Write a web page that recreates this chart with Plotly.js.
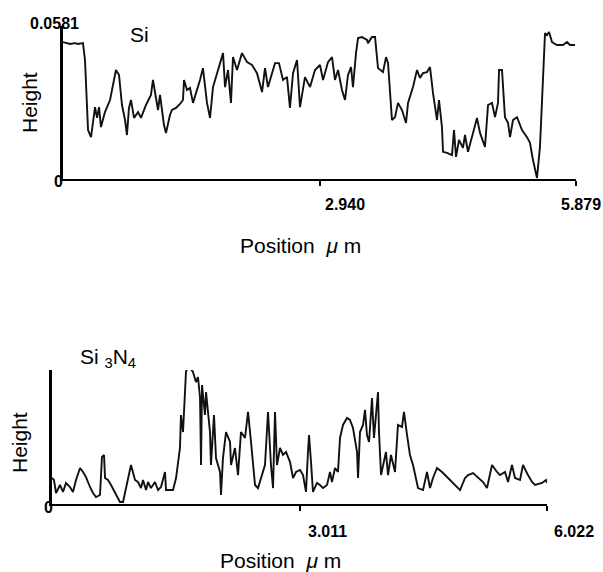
<!DOCTYPE html>
<html>
<head>
<meta charset="utf-8">
<script src="https://cdn.plot.ly/plotly-3.0.1.min.js"></script>
<style>html,body{margin:0;padding:0;background:#fff;}#chart{width:603px;height:572px;}</style>
</head>
<body>
<div id="chart"></div>
<script>
// ---- Si profile (position in um, height in nm; full scale 0.0581 um = 58.1 nm)
const siPos = [0,0.080,0.138,0.172,0.229,0.252,0.287,0.321,0.367,0.390,0.413,0.435,0.481,0.539,0.607,0.642,0.676,0.711,0.733,0.756,0.779,0.814,0.860,0.894,0.951,1.008,1.031,1.066,1.089,1.112,1.157,1.180,1.226,1.249,1.295,1.341,1.375,1.387,1.421,1.455,1.490,1.570,1.604,1.650,1.685,1.719,1.776,1.834,1.857,1.891,1.925,1.948,1.994,2.051,2.109,2.166,2.223,2.281,2.315,2.349,2.430,2.475,2.521,2.567,2.601,2.636,2.682,2.716,2.773,2.831,2.888,2.945,2.980,3.037,3.083,3.117,3.152,3.197,3.232,3.266,3.301,3.323,3.358,3.381,3.427,3.484,3.495,3.541,3.576,3.610,3.667,3.702,3.725,3.747,3.770,3.805,3.839,3.885,3.931,3.954,4.011,4.057,4.091,4.126,4.171,4.206,4.240,4.286,4.309,4.343,4.355,4.401,4.458,4.481,4.504,4.538,4.584,4.607,4.641,4.699,4.744,4.779,4.836,4.871,4.916,4.951,4.985,4.997,5.031,5.065,5.100,5.123,5.157,5.203,5.260,5.317,5.352,5.386,5.432,5.466,5.501,5.524,5.547,5.570,5.604,5.661,5.730,5.776,5.810,5.868];
const siHeight = [52.0,51.3,51.6,51.3,51.6,45.2,18.6,15.9,27.3,23.2,27.3,19.7,25.4,30.0,41.4,39.5,28.1,22.4,16.7,27.0,30.0,23.2,25.4,23.2,28.1,31.9,37.6,30.0,26.2,31.9,20.5,17.5,24.3,26.2,27.0,28.5,30.0,37.6,33.8,34.6,28.9,37.6,42.1,28.9,23.2,34.9,41.4,47.8,34.9,41.4,28.9,46.3,41.4,47.8,44.4,43.3,40.2,33.0,42.1,34.9,44.0,44.0,37.6,38.7,27.0,40.2,45.2,27.3,38.7,34.9,41.4,43.3,37.6,44.4,46.3,37.6,41.4,33.8,30.0,39.5,42.5,34.9,47.8,53.5,53.9,52.8,51.6,53.9,53.9,42.1,40.6,46.3,44.0,32.7,22.4,23.5,28.9,26.2,21.3,28.9,34.9,41.4,38.4,40.2,40.6,42.5,32.7,22.4,30.0,19.7,10.3,9.9,9.1,18.6,8.4,14.8,11.8,16.7,10.3,17.5,23.2,17.5,12.2,28.1,28.9,23.5,28.9,41.4,41.4,23.5,21.3,15.9,22.4,23.5,18.6,15.9,13.7,7.2,0.4,12.2,41.4,55.4,54.7,55.8,52.0,50.9,50.9,52.0,50.9,50.9];

// ---- Si3N4 profile (position in um, height in relative units, 100 = top of axis)
const snPos = [0,0.024,0.049,0.097,0.134,0.170,0.219,0.255,0.292,0.341,0.377,0.414,0.462,0.499,0.535,0.584,0.608,0.633,0.645,0.681,0.718,0.766,0.827,0.864,0.925,0.961,1.010,1.046,1.083,1.107,1.144,1.168,1.204,1.253,1.290,1.326,1.375,1.387,1.472,1.509,1.557,1.569,1.594,1.618,1.630,1.655,1.715,1.752,1.776,1.801,1.813,1.825,1.861,1.874,1.922,1.934,1.971,1.995,2.044,2.056,2.080,2.117,2.166,2.178,2.226,2.263,2.299,2.348,2.385,2.421,2.470,2.506,2.543,2.591,2.628,2.664,2.689,2.713,2.737,2.774,2.810,2.847,2.896,2.932,2.969,3.017,3.054,3.090,3.114,3.127,3.151,3.175,3.224,3.260,3.297,3.346,3.382,3.406,3.443,3.479,3.504,3.540,3.589,3.625,3.662,3.711,3.723,3.747,3.784,3.808,3.832,3.857,3.893,3.917,3.966,3.978,4.003,4.027,4.063,4.088,4.124,4.173,4.209,4.258,4.282,4.319,4.355,4.392,4.453,4.514,4.562,4.599,4.635,4.684,4.745,4.818,4.903,4.964,5.025,5.061,5.122,5.183,5.244,5.292,5.353,5.414,5.450,5.511,5.548,5.596,5.633,5.694,5.730,5.791,5.840,5.876,5.961,6.010,6.022];
const snHeight = [19.4,17.9,8.2,14.2,9.0,15.7,12.7,9.0,17.9,26.9,23.9,20.1,12.7,8.2,5.2,6.7,35.1,36.6,19.4,17.9,14.2,8.2,1.5,1.5,19.4,29.1,17.9,16.4,11.9,17.9,10.4,16.4,11.9,16.4,10.4,12.7,23.9,10.4,10.4,19.4,41.8,66.4,53.7,79.1,98.5,103.7,98.5,91.0,94.8,79.1,29.1,88.8,66.4,83.6,53.7,29.1,66.4,34.3,23.9,6.7,34.3,53.7,46.3,29.1,41.8,21.6,53.7,49.3,68.7,46.3,14.2,11.9,19.4,29.1,68.7,29.1,11.9,68.7,29.1,41.8,36.6,38.8,31.3,19.4,23.9,25.4,21.6,9.0,38.8,51.5,31.3,9.0,15.7,14.2,11.9,14.2,23.9,16.4,26.9,23.9,49.3,59.0,64.2,62.7,56.7,38.8,19.4,53.7,59.0,70.2,51.5,46.3,79.1,49.3,83.6,53.7,21.6,29.1,38.8,21.6,36.6,23.9,59.0,57.5,68.7,51.5,36.6,29.1,11.9,10.4,23.9,11.9,19.4,26.9,23.9,19.4,14.2,10.4,19.4,21.6,23.1,19.4,16.4,11.9,29.1,23.9,21.6,23.9,16.4,29.1,19.4,17.9,29.1,21.6,16.4,14.2,15.7,17.9,15.7];

// tick labels
const siXTicks = [2.940, 5.879];
const siXTickText = ['2.940', '5.879'];
const siYTopText = '0.0581';
const snXTicks = [3.011, 6.022];
const snXTickText = ['3.011', '6.022'];

const W = 603, H = 572;
const ax = p => p / W;
const ay = p => 1 - p / H;

const lineStyle = {color: '#111', width: 1.9};
const traces = [
  {x: siPos, y: siHeight, type: 'scatter', mode: 'lines', line: lineStyle, xaxis: 'x', yaxis: 'y', hoverinfo: 'skip'},
  {x: snPos, y: snHeight, type: 'scatter', mode: 'lines', line: lineStyle, xaxis: 'x2', yaxis: 'y2', hoverinfo: 'skip'}
];

const xBase = {showline: true, linecolor: '#000', linewidth: 2, showgrid: false, zeroline: false,
  ticks: 'outside', ticklen: 5, tickwidth: 2, tickcolor: '#000', showticklabels: false};
const yBase = {showline: true, linecolor: '#000', linewidth: 3, showgrid: false, zeroline: false,
  ticks: '', showticklabels: false};

const labFont = {family: 'Liberation Sans, Arial, sans-serif', size: 21, color: '#000'};
const tickFont = {family: 'Liberation Sans, Arial, sans-serif', size: 16, color: '#000'};

function txt(text, px, py, font, extra) {
  return Object.assign({text: text, x: ax(px), y: ay(py), xref: 'paper', yref: 'paper',
    showarrow: false, xanchor: 'center', yanchor: 'middle', font: font}, extra || {});
}

const annotations = [
  txt('<b>' + siYTopText + '</b>', 54, 23, tickFont),
  txt('<b>0</b>', 58, 182, tickFont),
  txt('<b>' + siXTickText[0] + '</b>', 323, 205, tickFont, {xanchor: 'left'}),
  txt('<b>' + siXTickText[1] + '</b>', 603, 205, tickFont, {xanchor: 'right'}),
  txt('Position  <i>μ</i> m', 300, 246, labFont),
  txt('Height', 29, 103, labFont, {textangle: -90}),
  txt('Si', 139, 35, labFont),
  txt('<b>0</b>', 48, 507, tickFont),
  txt('<b>' + snXTickText[0] + '</b>', 306, 531, tickFont, {xanchor: 'left'}),
  txt('<b>' + snXTickText[1] + '</b>', 552, 531, tickFont, {xanchor: 'left'}),
  txt('Position  <i>μ</i> m', 280, 560, labFont),
  txt('Height', 19, 443, labFont, {textangle: -90}),
  txt('Si <sub>3</sub>N<sub>4</sub>', 78, 358, labFont, {xanchor: 'left'})
];

const layout = {
  width: W, height: H,
  margin: {l: 0, r: 0, t: 0, b: 0},
  paper_bgcolor: '#fff', plot_bgcolor: '#fff',
  showlegend: false,
  xaxis: Object.assign({}, xBase, {domain: [ax(63), ax(576)], range: [0, 5.879], tickvals: siXTicks, anchor: 'y'}),
  yaxis: Object.assign({}, yBase, {domain: [ay(179), ay(26)], range: [0, 58.1], anchor: 'x'}),
  xaxis2: Object.assign({}, xBase, {domain: [ax(52), ax(547)], range: [0, 6.022], tickvals: snXTicks, anchor: 'y2'}),
  yaxis2: Object.assign({}, yBase, {domain: [ay(504), ay(370)], range: [0, 100], anchor: 'x2'}),
  annotations: annotations
};

Plotly.newPlot('chart', traces, layout, {staticPlot: true, displayModeBar: false});
</script>
</body>
</html>
